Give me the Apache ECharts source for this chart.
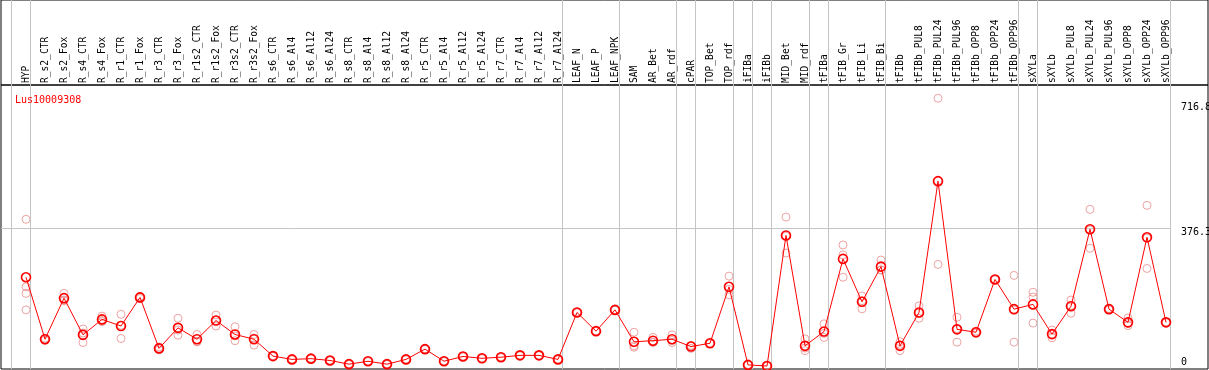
<!DOCTYPE html>
<html>
<head>
<meta charset="utf-8">
<script src="https://cdn.jsdelivr.net/npm/echarts@6/dist/echarts.min.js"></script>
<style>
html,body{margin:0;padding:0;background:#fff;}
#main{width:1209px;height:370px;}
</style>
</head>
<body>
<div id="main"></div>
<script>
/// gene name shown in the plot
var geneName = "Lus10009308";

/// sample names (x categories)
var categories = ["HYP","R_s2_CTR","R_s2_Fox","R_s4_CTR","R_s4_Fox","R_r1_CTR","R_r1_Fox","R_r3_CTR","R_r3_Fox",
	"R_r1s2_CTR","R_r1s2_Fox","R_r3s2_CTR","R_r3s2_Fox","R_s6_CTR","R_s6_Al4","R_s6_Al12","R_s6_Al24",
	"R_s8_CTR","R_s8_Al4","R_s8_Al12","R_s8_Al24","R_r5_CTR","R_r5_Al4","R_r5_Al12","R_r5_Al24",
	"R_r7_CTR","R_r7_Al4","R_r7_Al12","R_r7_Al24","LEAF_N","LEAF_P","LEAF_NPK","SAM","AR_Bet","AR_rdf",
	"cPAR","TOP_Bet","TOP_rdf","iFIBa","iFIBb","MID_Bet","MID_rdf","tFIBa","tFIB_Gr","tFIB_Li","tFIB_Bi",
	"tFIBb","tFIBb_PUL8","tFIBb_PUL24","tFIBb_PUL96","tFIBb_OPP8","tFIBb_OPP24","tFIBb_OPP96",
	"sXYLa","sXYLb","sXYLb_PUL8","sXYLb_PUL24","sXYLb_PUL96","sXYLb_OPP8","sXYLb_OPP24","sXYLb_OPP96"];

/// mean expression
var meanValues = [242,73,185,85,127,109,187,48,104,73,124,86,73,27,18,20,15,5,13,5,18,46,13,26,21,24,29,29,18,
	146,95,153,66,69,73,53,62,216,3,0,356,55,94,292,175,271,55,146,504,100,92,236,155,168,87,163,373,155,119,351,119];

/// replicates
var rep1 = [400,76,198,101,136,141,190,52,130,86,139,107,86,28,19,21,16,6,14,6,19,47,14,27,22,25,30,30,19,
	147,96,154,92,78,85,55,63,245,4,2,406,74,115,330,191,289,66,164,730,133,95,237,247,201,98,180,427,157,131,438,120];
var rep2 = [153,70,178,64,121,75,184,44,84,66,109,69,57,26,17,19,14,4,12,4,17,45,12,25,20,23,28,28,17,
	145,94,152,55,64,64,48,61,194,2,0,308,42,78,242,156,262,42,130,277,65,89,235,65,117,77,144,321,153,110,266,118];
var rep3 = [216,73,180,90,124,111,187,48,98,67,124,82,76,27,18,20,15,5,13,5,18,46,13,26,21,24,29,29,18,
	146,95,153,51,65,70,56,62,209,3,0,354,49,89,303,178,262,57,144,505,102,92,236,153,188,86,165,371,155,116,349,119];
var rep4 = [198];

/// y tick labels
var yTicks = [0,376.3,716.8];

/// groups end after these sample indexes (-1 = before the first)
var groupEnds = [-1,0,28,31,34,35,37,38,39,41,42,45,52,53,60];

var xMin = -25/19, xMax = xMin + 1207/19;
var yMin = -8.18, yMax = 766.2;
var sepOffset = 0.24;

function toPoints(arr){
	var pts = [];
	for (var i=0;i<arr.length;i++){
		if (arr[i] != null) pts.push([i, arr[i]]);
	}
	return pts;
}

function sepLines(){
	var d = [];
	for (var i=0;i<groupEnds.length;i++){
		d.push({xAxis: groupEnds[i] + sepOffset});
	}
	return d;
}

function InitChart(){
	var myChart = echarts.init(document.getElementById('main'));
	var mono = 'DejaVu Sans Mono';
	var sepStyle = {color:'#c4c4c4', width:1, type:'solid'};
	var repStyle = {color:'rgba(0,0,0,0)', borderColor:'#e88c8c', borderWidth:1};

	var repSeries = [rep1, rep2, rep3, rep4].map(function(r){
		return {
			type:'scatter', xAxisIndex:1, yAxisIndex:1,
			symbol:'circle', symbolSize:8, itemStyle:repStyle,
			data: toPoints(r), z:3, silent:true
		};
	});

	var option = {
		animation:false,
		title:{
			text: geneName, left:10, top:90,
			textStyle:{color:'#ff0000', fontFamily:mono, fontSize:10, fontWeight:'normal'}
		},
		grid:[
			{left:1, right:1, top:0, height:85, show:true, borderColor:'#000', borderWidth:1, containLabel:false, outerBoundsMode:'none'},
			{left:1, right:1, top:85, bottom:1, show:true, borderColor:'#000', borderWidth:1, containLabel:false, outerBoundsMode:'none'}
		],
		xAxis:[
			{type:'value', gridIndex:0, min:xMin, max:xMax, show:false},
			{
				type:'value', gridIndex:1, min:xMin, max:xMax, position:'top',
				axisLine:{show:false}, axisTick:{show:false}, splitLine:{show:false},
				axisLabel:{
					customValues: categories.map(function(c,i){ return i; }),
					formatter:function(v){ return categories[Math.round(v)]; },
					rotate:90, margin:2, color:'#000', fontFamily:mono, fontSize:9.6
				}
			}
		],
		yAxis:[
			{type:'value', gridIndex:0, min:0, max:1, show:false},
			{
				type:'value', gridIndex:1, min:yMin, max:yMax, position:'right', offset:-28,
				axisLine:{show:false}, axisTick:{show:false}, splitLine:{show:false},
				axisLabel:{
					customValues: yTicks, margin:1, color:'#000', fontFamily:mono, fontSize:10,
					formatter:function(v){ return v == 0 ? '{lo|0}' : '{hi|' + v + '}'; },
					rich:{
						lo:{padding:[0,0,8,0], fontFamily:mono, fontSize:10, color:'#000'},
						hi:{padding:[8,0,0,0], fontFamily:mono, fontSize:10, color:'#000'}
					}
				}
			}
		],
		series:[
			{
				type:'line', xAxisIndex:0, yAxisIndex:0, data:[], silent:true,
				markLine:{symbol:'none', silent:true, label:{show:false}, lineStyle:sepStyle, data:sepLines()}
			},
			{
				type:'line', xAxisIndex:1, yAxisIndex:1, data:[], silent:true,
				markLine:{symbol:'none', silent:true, label:{show:false}, lineStyle:sepStyle,
					data: sepLines().concat([[{coord:[xMin, yTicks[1]]}, {coord:[groupEnds[groupEnds.length-1] + sepOffset, yTicks[1]]}]])}
			}
		].concat(repSeries).concat([
			{
				type:'line', xAxisIndex:1, yAxisIndex:1, data: toPoints(meanValues),
				symbol:'circle', symbolSize:9, z:5,
				itemStyle:{color:'rgba(0,0,0,0)', borderColor:'#ff0000', borderWidth:1.6},
				lineStyle:{color:'#ff0000', width:1}
			}
		])
	};
	myChart.setOption(option);
}

InitChart();
</script>
</body>
</html>
